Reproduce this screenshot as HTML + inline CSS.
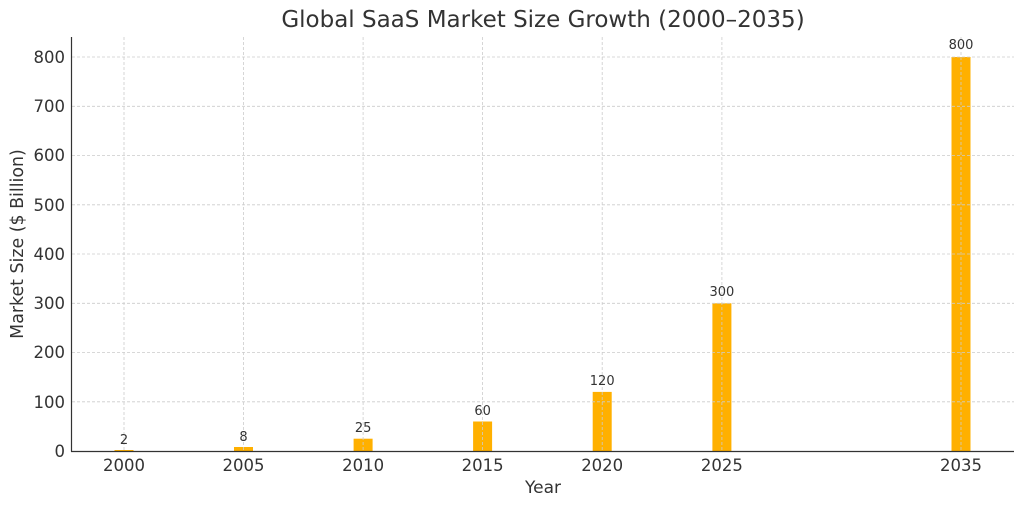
<!DOCTYPE html>
<html><head><style>body{margin:0;background:#fff}svg{display:block}</style></head><body>
<svg width="1024" height="507" xmlns="http://www.w3.org/2000/svg" font-family="DejaVu Sans, Liberation Sans, sans-serif">
<rect width="1024" height="507" fill="#fff"/>
<g fill="#FFB000">
<rect x="114.5" y="450" width="19" height="1"/>
<rect x="234" y="447" width="19" height="4"/>
<rect x="353.6" y="438.7" width="19" height="12.3"/>
<rect x="473.1" y="421.5" width="19" height="29.5"/>
<rect x="592.7" y="391.9" width="19" height="59.1"/>
<rect x="712.4" y="303.3" width="19" height="147.7"/>
<rect x="951.5" y="57" width="19" height="394"/>
</g>
<g stroke="#cccccc" stroke-width="0.8" stroke-dasharray="3,2">
<line x1="72" x2="1014" y1="401.8" y2="401.8"/><line x1="72" x2="1014" y1="352.5" y2="352.5"/>
<line x1="72" x2="1014" y1="303.3" y2="303.3"/><line x1="72" x2="1014" y1="254" y2="254"/>
<line x1="72" x2="1014" y1="204.8" y2="204.8"/><line x1="72" x2="1014" y1="155.5" y2="155.5"/>
<line x1="72" x2="1014" y1="106.3" y2="106.3"/><line x1="72" x2="1014" y1="57" y2="57"/>
<line y1="37" y2="451" x1="124" x2="124"/><line y1="37" y2="451" x1="243.5" x2="243.5"/>
<line y1="37" y2="451" x1="363.1" x2="363.1"/><line y1="37" y2="451" x1="482.6" x2="482.6"/>
<line y1="37" y2="451" x1="602.2" x2="602.2"/><line y1="37" y2="451" x1="721.9" x2="721.9"/>
<line y1="37" y2="451" x1="961" x2="961"/>
</g>
<g stroke="#333" stroke-width="1.2">
<line x1="71.5" y1="37" x2="71.5" y2="451.5"/><line x1="71" y1="451.5" x2="1014" y2="451.5"/>
</g>
<g fill="#333" font-size="16.5" text-anchor="end">
<text x="65" y="457">0</text><text x="65" y="408">100</text><text x="65" y="358">200</text>
<text x="65" y="309">300</text><text x="65" y="260">400</text><text x="65" y="211">500</text>
<text x="65" y="161">600</text><text x="65" y="112">700</text><text x="65" y="63">800</text>
</g>
<g fill="#333" font-size="16.5" text-anchor="middle">
<text x="124" y="471">2000</text><text x="243.5" y="471">2005</text><text x="363.1" y="471">2010</text>
<text x="482.6" y="471">2015</text><text x="602.2" y="471">2020</text><text x="721.9" y="471">2025</text>
<text x="961" y="471">2035</text>
<text x="543" y="493" font-size="17">Year</text>
<text x="543" y="27" font-size="23">Global SaaS Market Size Growth (2000–2035)</text>
<text transform="translate(23,244) rotate(-90)" font-size="17.4">Market Size ($ Billion)</text>
</g>
<g fill="#333" font-size="13" text-anchor="middle">
<text x="124" y="444">2</text><text x="243.5" y="441">8</text><text x="363.1" y="432">25</text>
<text x="482.6" y="415">60</text><text x="602.2" y="385">120</text><text x="721.9" y="296">300</text>
<text x="961" y="49">800</text>
</g>
</svg>
</body></html>
